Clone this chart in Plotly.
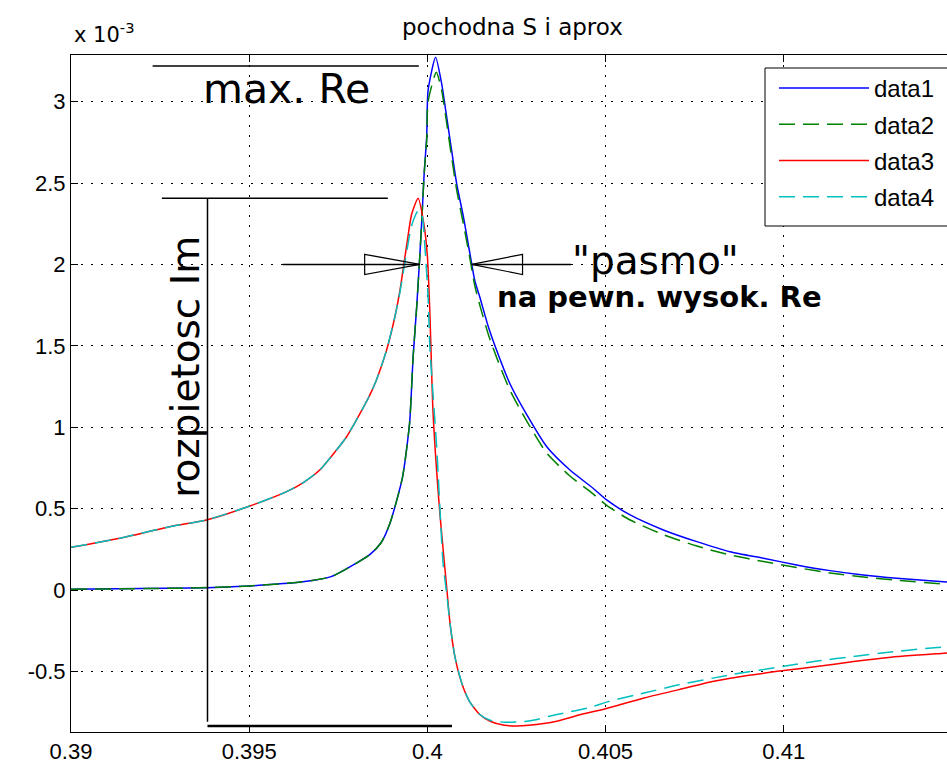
import plotly.graph_objects as go

# ---------------- data (y values in units of 1e-3) ----------------
x_data1 = [0.3900, 0.3933, 0.3950, 0.3965, 0.3973, 0.3980, 0.3984, 0.3987, 0.39895, 0.3993,
           0.3995, 0.3996, 0.3997, 0.39974, 0.39979, 0.39985, 0.39991, 0.39998, 0.40002, 0.40023,
           0.40040, 0.40054, 0.40068, 0.40082, 0.40101, 0.40119, 0.40133, 0.40147, 0.40171, 0.40194,
           0.40231, 0.40278, 0.40335, 0.40400, 0.40465, 0.40503, 0.40569, 0.40662, 0.40756, 0.40849,
           0.40943, 0.41036, 0.41130, 0.41223, 0.41317, 0.41448, 0.4150]
y_data1 = [0.005, 0.012, 0.025, 0.050, 0.082, 0.164, 0.220, 0.290, 0.410, 0.690,
           1.024, 1.433, 1.740, 1.880, 2.060, 2.300, 2.560, 2.780, 3.070, 3.272,
           3.110, 2.907, 2.700, 2.498, 2.293, 2.070, 1.900, 1.800, 1.617, 1.474,
           1.270, 1.080, 0.880, 0.737, 0.625, 0.553, 0.461, 0.369, 0.297, 0.235,
           0.195, 0.154, 0.119, 0.092, 0.072, 0.051, 0.045]

x_data2 = [0.3900, 0.3933, 0.3950, 0.3965, 0.3973, 0.3980, 0.3984, 0.3987, 0.39895, 0.3993,
           0.3995, 0.3996, 0.3997, 0.39974, 0.39979, 0.39985, 0.39991, 0.39998, 0.40002, 0.40025,
           0.40040, 0.40054, 0.40068, 0.40082, 0.40101, 0.40119, 0.40133, 0.40147, 0.40171, 0.40194,
           0.40231, 0.40278, 0.40335, 0.40400, 0.40465, 0.40503, 0.40569, 0.40662, 0.40756, 0.40849,
           0.40943, 0.41036, 0.41130, 0.41223, 0.41317, 0.41448, 0.4150]
y_data2 = [0.005, 0.012, 0.025, 0.050, 0.082, 0.164, 0.220, 0.290, 0.410, 0.690,
           1.024, 1.433, 1.740, 1.880, 2.060, 2.300, 2.560, 2.760, 3.000, 3.180,
           3.070, 2.870, 2.660, 2.460, 2.250, 2.040, 1.870, 1.750, 1.570, 1.430,
           1.230, 1.040, 0.840, 0.700, 0.590, 0.520, 0.430, 0.340, 0.270, 0.215,
           0.175, 0.138, 0.105, 0.080, 0.060, 0.037, 0.032]

x_data3 = [0.3900, 0.39137, 0.39277, 0.39380, 0.39502, 0.39605, 0.39652, 0.39698, 0.39745, 0.39773,
           0.39792, 0.39820, 0.39839, 0.39857, 0.39885, 0.39909, 0.39923, 0.39942, 0.39956, 0.39974,
           0.39990, 0.40000, 0.40007, 0.40016, 0.40035, 0.40054, 0.40064, 0.40078, 0.40098, 0.40118,
           0.40147, 0.40176, 0.40216, 0.40250, 0.40284, 0.40363, 0.40431, 0.40500, 0.40608, 0.40706,
           0.40804, 0.40902, 0.41000, 0.41098, 0.41196, 0.41294, 0.41450, 0.4150]
y_data3 = [0.262, 0.318, 0.389, 0.430, 0.516, 0.604, 0.660, 0.737, 0.860, 0.940,
           1.010, 1.120, 1.200, 1.290, 1.470, 1.680, 1.840, 2.120, 2.310, 2.406,
           2.250, 2.050, 1.700, 1.085, 0.471, 0.020, -0.214, -0.418, -0.582, -0.684,
           -0.765, -0.806, -0.831, -0.835, -0.831, -0.806, -0.765, -0.729, -0.663, -0.612,
           -0.561, -0.524, -0.495, -0.469, -0.439, -0.414, -0.388, -0.380]

x_data4 = [0.3900, 0.39137, 0.39277, 0.39380, 0.39502, 0.39605, 0.39652, 0.39698, 0.39745, 0.39773,
           0.39792, 0.39820, 0.39839, 0.39857, 0.39885, 0.39909, 0.39923, 0.39942, 0.39956, 0.39974,
           0.39985, 0.39993, 0.40002, 0.40007, 0.40026, 0.40044, 0.40054, 0.40064, 0.40078, 0.40098,
           0.40118, 0.40147, 0.40176, 0.40216, 0.40284, 0.40363, 0.40451, 0.40510, 0.40608, 0.40706,
           0.40853, 0.41000, 0.41098, 0.41196, 0.41294, 0.41431, 0.4150]
y_data4 = [0.262, 0.318, 0.389, 0.430, 0.516, 0.604, 0.660, 0.737, 0.860, 0.940,
           1.010, 1.120, 1.200, 1.290, 1.470, 1.680, 1.830, 2.080, 2.240, 2.330,
           2.300, 2.110, 1.800, 1.490, 0.880, 0.164, -0.020, -0.214, -0.418, -0.582,
           -0.684, -0.765, -0.800, -0.812, -0.805, -0.765, -0.724, -0.684, -0.633, -0.582,
           -0.520, -0.469, -0.435, -0.408, -0.382, -0.353, -0.345]

series_names = ["data1", "data2", "data3", "data4"]
series_colors = ["#0000ff", "#008000", "#ff0000", "#00bfbf"]
series_dash = ["solid", "16px,8px", "solid", "16px,8px"]

x_ticks = [0.39, 0.395, 0.4, 0.405, 0.41]
x_tick_labels = ["0.39", "0.395", "0.4", "0.405", "0.41"]
y_ticks = [-0.5, 0, 0.5, 1, 1.5, 2, 2.5, 3]
y_tick_labels = ["-0.5", "0", "0.5", "1", "1.5", "2", "2.5", "3"]

x_range = [0.39, 0.41458]
y_range = [-0.8722, 3.2862]

title_text = "pochodna S i aprox"

# ---------------- figure ----------------
fig = go.Figure()
for name, xs, ys, col, dash in zip(series_names,
                                   [x_data1, x_data2, x_data3, x_data4],
                                   [y_data1, y_data2, y_data3, y_data4],
                                   series_colors, series_dash):
    fig.add_trace(go.Scatter(x=xs, y=ys, mode="lines", name=name, legendgroup=name,
                             line=dict(color=col, width=1.5, dash=dash,
                                       shape="spline", smoothing=0.6)))

tick_font = dict(family="Liberation Sans Narrow, Arial Narrow, Liberation Sans, sans-serif",
                 size=22, color="black")
big = "DejaVu Sans, sans-serif"

fig.update_xaxes(range=x_range, tickvals=x_ticks, ticktext=x_tick_labels,
                 showline=True, linecolor="black", linewidth=1, mirror="ticks",
                 ticks="inside", ticklen=7, tickcolor="black",
                 showgrid=True, gridcolor="black", gridwidth=1, griddash="2px,8px",
                 zeroline=False, tickfont=tick_font)
fig.update_yaxes(range=y_range, tickvals=y_ticks, ticktext=y_tick_labels,
                 showline=True, linecolor="black", linewidth=1, mirror=False,
                 ticks="inside", ticklen=7, tickcolor="black",
                 showgrid=True, gridcolor="black", gridwidth=1, griddash="2px,8px",
                 zeroline=False, tickfont=tick_font)

PX = 876.0   # plot width in px
PY = 677.0   # plot height in px

line_k = dict(color="black", width=1.5)
shapes = [
    # max. Re marker line
    dict(type="line", xref="x", yref="y", x0=0.39229, x1=0.39976, y0=3.219, y1=3.219, line=line_k),
    # Im span
    dict(type="line", xref="x", yref="y", x0=0.39255, x1=0.39889, y0=2.406, y1=2.406, line=line_k),
    dict(type="line", xref="x", yref="y", x0=0.39383, x1=0.39383, y0=2.406, y1=-0.81, line=line_k),
    dict(type="line", xref="x", yref="y", x0=0.39383, x1=0.40069, y0=-0.835, y1=-0.835,
         line=dict(color="black", width=2.5)),
    # left arrow
    dict(type="line", xref="x", yref="y", x0=0.39594, x1=0.39979, y0=2.0, y1=2.0, line=line_k),
    dict(type="path", xref="x", yref="y",
         path="M 0.39824,2.062 L 0.39979,2.0 L 0.39824,1.938 Z",
         line=dict(color="black", width=1.2), fillcolor="rgba(0,0,0,0)"),
    # right arrow
    dict(type="line", xref="x", yref="y", x0=0.40124, x1=0.40403, y0=2.0, y1=2.0, line=line_k),
    dict(type="path", xref="x", yref="y",
         path="M 0.40267,2.062 L 0.40124,2.0 L 0.40267,1.938 Z",
         line=dict(color="black", width=1.2), fillcolor="rgba(0,0,0,0)"),
    # legend box (extends past the right edge, as in the reference)
    dict(type="rect", xref="paper", yref="paper", layer="above",
         x0=(765 - 71) / PX, x1=(975 - 71) / PX,
         y0=1 - (226 - 55) / PY, y1=1 - (68 - 55) / PY,
         line=dict(color="black", width=1), fillcolor="white"),
]

annotations = [
    dict(text=title_text, xref="paper", yref="paper", x=0.504, y=1.0408,
         xanchor="center", yanchor="middle", showarrow=False,
         font=dict(family=big, size=23, color="black")),
    dict(text="x 10<sup>-3</sup>", xref="paper", yref="paper", x=0.001, y=1.0,
         xanchor="left", yanchor="bottom", yshift=6, showarrow=False,
         font=dict(family=big, size=21, color="black")),
    dict(text="max. Re", xref="x", yref="y", x=0.39606, y=3.076,
         xanchor="center", yanchor="middle", showarrow=False,
         font=dict(family=big, size=41, color="black")),
    dict(text="rozpietosc Im", xref="x", yref="y", x=0.39322, y=1.370, textangle=-90,
         xanchor="center", yanchor="middle", showarrow=False,
         font=dict(family=big, size=39, color="black")),
    dict(text="\"pasmo\"", xref="x", yref="y", x=0.40640, y=2.024,
         xanchor="center", yanchor="middle", showarrow=False,
         font=dict(family=big, size=39, color="black")),
    dict(text="na pewn. wysok. Re", xref="x", yref="y", x=0.40651, y=1.798,
         xanchor="center", yanchor="middle", showarrow=False,
         font=dict(family=big, size=29, color="black", weight="bold")),
]

fig.update_layout(
    width=947, height=765,
    margin=dict(l=71, r=0, t=55, b=33),
    paper_bgcolor="white", plot_bgcolor="white",
    shapes=shapes, annotations=annotations,
    legend=dict(x=(774 - 71) / PX, y=1 - (66 - 55) / PY, xanchor="left", yanchor="top",
                bgcolor="rgba(0,0,0,0)", borderwidth=0,
                font=dict(family="Liberation Sans, Arial, sans-serif", size=24, color="black"),
                itemwidth=90, traceorder="grouped", tracegroupgap=2),
    showlegend=True,
)

fig.write_html("out.html", config={"displayModeBar": False},
               post_script="document.body.style.margin='0';")
